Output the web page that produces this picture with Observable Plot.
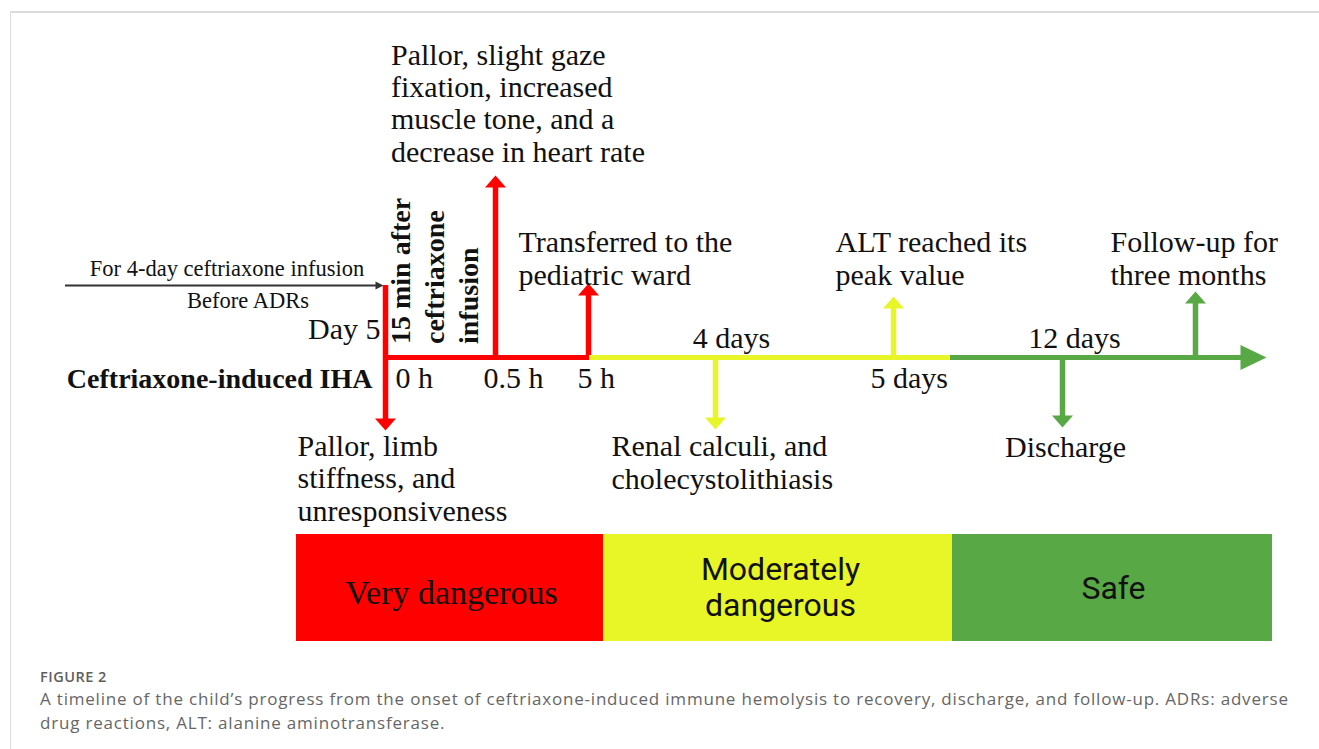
<!DOCTYPE html>
<html>
<head>
<meta charset="utf-8">
<script src="https://cdn.jsdelivr.net/npm/d3@7"></script>
<script src="https://cdn.jsdelivr.net/npm/@observablehq/plot@0.6"></script>
<style>
  html, body { margin: 0; padding: 0; background: #fff; overflow: hidden; }
  #frame { position: absolute; left: 10px; top: 11px; width: 1400px; height: 800px;
           border-top: 2px solid #dcdcdc; border-left: 1px solid #dcdcdc; }
  #chart { position: absolute; left: 0; top: 0; }
  #caption { position: absolute; left: 40px; top: 667px; font-family: "Open Sans", sans-serif; color: #666; white-space: nowrap; }
  #caption .fig { font-size: 14.5px; font-weight: 600; letter-spacing: 0.5px; color: #5e5e5e; line-height: 20px; }
  #caption .txt { font-size: 17px; letter-spacing: 0.8px; line-height: 24px; }
</style>
</head>
<body>
<div id="frame"></div>
<div id="chart"></div>
<div id="caption">
  <div class="fig">FIGURE 2</div>
  <div class="txt">A timeline of the child’s progress from the onset of ceftriaxone-induced immune hemolysis to recovery, discharge, and follow-up. ADRs: adverse<br>drug reactions, ALT: alanine aminotransferase.</div>
</div>
<script>
// ---------------- data ----------------
// Timeline coordinate: 0 = onset of the reaction (0 h); values are positions along the drawn timeline.
const phaseNames = ["Very dangerous", "Moderately\ndangerous", "Safe"];
const phaseColors = ["#ff0000", "#e8f527", "#58a845"];
const phaseLineStart = [0, 20.4, 56.5];
const phaseLineEnd = [20.4, 56.5, 85.8];
const phaseBoxStart = [-8.9, 21.8, 56.7];
const phaseBoxEnd = [21.8, 56.7, 88.7];

// Events (arrows off the timeline)
const eventNames = ["Onset", "0.5 h reaction", "Transfer", "Calculi", "ALT peak", "Discharge", "Follow-up"];
const eventPos   = [0, 11, 20.3, 33, 50.8, 67.7, 81];
const eventFrom  = [7.2, 0, 0, 0, 0, 0, 0];
const eventTip   = [-7.3, 18.2, 7.4, -7.2, 6.1, -7.0, 6.6];
const eventPhase = [0, 0, 0, 1, 1, 2, 2];

// Text labels
const annotTexts = [
  "Pallor, slight gaze\nfixation, increased\nmuscle tone, and a\ndecrease in heart rate",
  "Transferred to the\npediatric ward",
  "ALT reached its\npeak value",
  "Follow-up for\nthree months",
  "Pallor, limb\nstiffness, and\nunresponsiveness",
  "Renal calculi, and\ncholecystolithiasis"
];
const annotX = [0.55, 13.3, 45, 72.5, -8.8, 22.6];
const annotY = [19.6, 7.3, 7.3, 7.3, -16.3, -13.1];

const durationTexts = ["4 days", "12 days", "Discharge"];
const durationX = [34.6, 68.9, 68];
const durationY = [1.0, 1.0, -9.9];

const tickTexts = ["0 h", "0.5 h", "5 h", "5 days"];
const tickX = [1.0, 9.8, 19.2, 48.5];
const tickY = -3.0;

const rowTitle = "Ceftriaxone-induced IHA";
const dayText = "Day 5";
const beforeTexts = ["For 4-day ceftriaxone infusion", "Before ADRs"];
const beforeX = [-15.85, -13.75];
const beforeY = [8.2, 5.0];
const verticalText = "15 min after\nceftriaxone\ninfusion";

// ---------------- tables ----------------
const phases = phaseNames.map((name, i) => ({
  name, color: phaseColors[i],
  l1: phaseLineStart[i], l2: phaseLineEnd[i],
  b1: phaseBoxStart[i], b2: phaseBoxEnd[i]
}));
const HEAD = 1.0; // arrow-head length in timeline units (stem stops inside the head)
const events = eventNames.map((name, i) => ({
  name, pos: eventPos[i], from: eventFrom[i], tip: eventTip[i],
  color: phaseColors[eventPhase[i]],
  dir: eventTip[i] > eventFrom[i] ? "up" : "down",
  stemEnd: eventTip[i] > eventFrom[i] ? eventTip[i] - HEAD : eventTip[i] + HEAD
}));
const annots = annotTexts.map((t, i) => ({t, x: annotX[i], y: annotY[i]}));
const durs = durationTexts.map((t, i) => ({t, x: durationX[i], y: durationY[i]}));
const ticks = tickTexts.map((t, i) => ({t, x: tickX[i], y: tickY}));
const befores = beforeTexts.map((t, i) => ({t, x: beforeX[i], y: beforeY[i]}));
const boxLabels = [
  {t: phaseNames[0], x: 6.6, y: -24.6},
  {t: phaseNames[1], x: 39.5, y: -25.8},
  {t: phaseNames[2], x: 72.8, y: -24.1}
];

// Arrow-head symbols with the tip at the origin
function arrowHead(dir, len, half) {
  return {
    draw(ctx) {
      const [ux, uy] = dir === "up" ? [0, -1] : dir === "down" ? [0, 1] : [1, 0];
      const bx = -len * ux, by = -len * uy;
      ctx.moveTo(0, 0);
      ctx.lineTo(bx - half * uy, by + half * ux);
      ctx.lineTo(bx + half * uy, by - half * ux);
      ctx.closePath();
    }
  };
}

const SERIF = "Liberation Serif, Times New Roman, serif";
const green = phaseColors[2];
const endTip = 88.1;

const chart = Plot.plot({
  width: 1319,
  height: 660,
  margin: 0,
  x: {domain: [-38.5, 93.4], range: [0, 1319], axis: null},
  y: {domain: [35.7, -30.3], range: [0, 660], axis: null},
  style: {background: "transparent", overflow: "visible"},
  marks: [
    // phase boxes
    Plot.rect(phases, {x1: "b1", x2: "b2", y1: -17.7, y2: -28.4, fill: "color"}),
    Plot.text(boxLabels.slice(0, 1), {x: "x", y: "y", text: "t", fontFamily: SERIF, fontSize: 34, fill: "#111", lineAnchor: "bottom"}),
    Plot.text(boxLabels.slice(1), {x: "x", y: "y", text: "t", fontFamily: "Roboto, sans-serif", fontSize: 32, fill: "#111", lineAnchor: "bottom", lineHeight: 1.1}),

    // "before" black arrow
    Plot.ruleY([7.2], {x1: -32, x2: -0.8, stroke: "#333", strokeWidth: 2.2}),
    Plot.dot([{x: -0.2, y: 7.2}], {x: "x", y: "y", symbol: arrowHead("right", 8, 4), fill: "#333", stroke: "none"}),

    // event stems
    Plot.ruleX(events, {x: "pos", y1: "from", y2: "stemEnd", stroke: "color", strokeWidth: 5.5}),
    // main timeline
    Plot.ruleY(phases, {x1: "l1", x2: "l2", y: 0, stroke: "color", strokeWidth: 5}),
    // arrow heads
    Plot.dot(events.filter(d => d.dir === "up"), {x: "pos", y: "tip", symbol: arrowHead("up", 12, 10.5), fill: "color", stroke: "none"}),
    Plot.dot(events.filter(d => d.dir === "down"), {x: "pos", y: "tip", symbol: arrowHead("down", 12, 10.5), fill: "color", stroke: "none"}),
    Plot.dot([{x: endTip, y: 0}], {x: "x", y: "y", symbol: arrowHead("right", 26, 12.5), fill: green, stroke: "none"}),

    // texts
    Plot.text(annots, {x: "x", y: "y", text: "t", textAnchor: "start", lineAnchor: "bottom", fontFamily: SERIF, fontSize: 30, lineHeight: 1.075, fill: "#111"}),
    Plot.text(durs, {x: "x", y: "y", text: "t", textAnchor: "middle", lineAnchor: "bottom", fontFamily: SERIF, fontSize: 30, fill: "#111"}),
    Plot.text(ticks, {x: "x", y: "y", text: "t", textAnchor: "start", lineAnchor: "bottom", fontFamily: SERIF, fontSize: 30, fill: "#111"}),
    Plot.text([dayText], {x: -0.5, y: 1.9, text: d => d, textAnchor: "end", lineAnchor: "bottom", fontFamily: SERIF, fontSize: 30, fill: "#111"}),
    Plot.text([rowTitle], {x: -1.3, y: -3.0, text: d => d, textAnchor: "end", lineAnchor: "bottom", fontFamily: SERIF, fontSize: 28, fontWeight: "bold", fill: "#111"}),
    Plot.text(befores, {x: "x", y: "y", text: "t", textAnchor: "middle", lineAnchor: "bottom", fontFamily: SERIF, fontSize: 22.5, fill: "#111"}),
    Plot.text([verticalText], {x: 9.2, y: 1.35, text: d => d, rotate: -90, textAnchor: "start", lineAnchor: "bottom", lineHeight: 1.2, fontFamily: SERIF, fontSize: 28, fontWeight: "bold", fill: "#111"})
  ]
});
document.getElementById("chart").appendChild(chart);
</script>
</body>
</html>
